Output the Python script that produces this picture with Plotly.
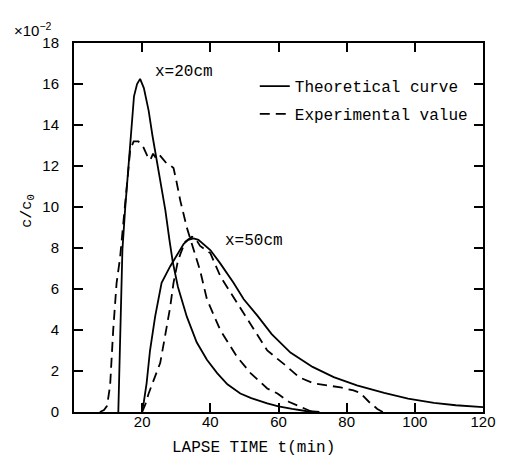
import plotly.graph_objects as go

# theoretical curve, x = 20 cm
t_th20 = [13.0, 13.5, 14.2, 15.0, 15.7, 16.3, 17.0, 17.6, 18.5, 19.4, 20.5, 21.9, 23.0, 24.3,
          25.5, 26.8, 28.0, 29.0, 30.5, 33.1, 36.0, 39.0, 42.0, 45.0, 48.8, 52.0, 56.7, 60.0,
          64.0, 68.0, 72.0]
c_th20 = [0.0, 3.0, 7.9, 9.9, 11.5, 12.9, 14.4, 15.4, 16.0, 16.25, 15.8, 14.7, 13.5, 12.3,
          11.0, 9.85, 8.4, 7.3, 6.1, 4.65, 3.4, 2.55, 1.9, 1.35, 0.9, 0.68, 0.42, 0.28,
          0.15, 0.05, 0.0]

# experimental value, x = 20 cm
t_ex20 = [7.6, 8.8, 9.7, 10.6, 11.5, 12.5, 13.5, 14.5, 15.5, 16.5, 17.5, 18.9, 20.4, 21.5,
          22.4, 23.2, 23.8, 24.8, 25.8, 27.3, 28.5, 29.2, 30.0, 31.2, 33.1, 35.0, 37.0, 39.0,
          42.9, 47.8, 51.8, 56.7, 59.7, 63.0, 66.5, 70.0]
c_ex20 = [0.0, 0.1, 0.3, 1.3, 4.0, 6.3, 7.5, 9.4, 11.3, 12.8, 13.2, 13.2, 12.9, 12.5,
          12.3, 12.6, 12.45, 12.6, 12.4, 12.1, 12.0, 11.9, 11.3, 10.3, 9.0, 8.0, 6.9, 5.5,
          4.0, 2.7, 1.9, 1.15, 0.9, 0.5, 0.24, 0.0]

# theoretical curve, x = 50 cm
t_th50 = [19.9, 20.5, 21.3, 22.3, 23.8, 25.7, 28.2, 30.5, 32.2, 33.5, 35.1, 36.5, 38.0, 40.0,
          42.9, 46.8, 49.8, 53.8, 58.0, 63.5, 70.0, 76.2, 83.0, 91.0, 98.0, 105.6, 112.0, 120.0]
c_th50 = [0.0, 0.5, 1.4, 3.0, 4.65, 6.3, 7.1, 7.7, 8.2, 8.4, 8.47, 8.4, 8.2, 7.9,
          7.25, 6.3, 5.5, 4.7, 3.8, 2.9, 2.2, 1.7, 1.3, 0.93, 0.65, 0.45, 0.33, 0.24]

# experimental value, x = 50 cm
t_ex50 = [20.0, 21.0, 21.9, 23.5, 25.3, 26.5, 27.3, 28.2, 29.2, 30.4, 31.2, 32.6, 34.6, 35.5,
          37.0, 40.0, 43.0, 46.8, 50.9, 56.7, 62.6, 66.0, 70.3, 74.0, 78.2, 82.0, 84.0, 86.5,
          89.0, 90.6]
c_ex50 = [0.0, 0.4, 0.9, 1.6, 2.4, 3.5, 4.2, 5.1, 6.3, 7.3, 7.7, 8.3, 8.55, 8.5,
          8.1, 7.75, 6.6, 5.6, 4.5, 3.0, 2.2, 1.7, 1.4, 1.3, 1.2, 1.05, 0.93, 0.5,
          0.15, 0.0]

x_ticks = [20, 40, 60, 80, 100, 120]
y_ticks = [0, 2, 4, 6, 8, 10, 12, 14, 16, 18]

MONO = "Liberation Mono"
NUM = "Liberation Sans"
solid = dict(color="black", width=1.8)
dashed = dict(color="black", width=1.8, dash="10px,6px")

fig = go.Figure()
fig.add_trace(go.Scatter(x=t_th20, y=c_th20, mode="lines", line=solid,
                         name="Theoretical curve", legendgroup="a"))
fig.add_trace(go.Scatter(x=t_ex20, y=c_ex20, mode="lines", line=dashed,
                         name="Experimental value", legendgroup="b"))
fig.add_trace(go.Scatter(x=t_th50, y=c_th50, mode="lines", line=solid,
                         showlegend=False, legendgroup="a"))
fig.add_trace(go.Scatter(x=t_ex50, y=c_ex50, mode="lines", line=dashed,
                         showlegend=False, legendgroup="b"))

fig.add_annotation(x=23.2, y=16.6, text="x=20cm", showarrow=False, xanchor="left",
                   font=dict(family=MONO, size=16, color="black"))
fig.add_annotation(x=43.7, y=8.35, text="x=50cm", showarrow=False, xanchor="left",
                   font=dict(family=MONO, size=16, color="black"))
fig.add_annotation(xref="paper", yref="paper", x=-0.152, y=1.068,
                   text="×10<sup>−2</sup>", showarrow=False,
                   font=dict(family=NUM, size=15, color="black"))
fig.add_annotation(xref="paper", yref="paper", x=-0.14, y=0.545, textangle=-90,
                   text="c/c<sub>0</sub>", showarrow=False,
                   font=dict(family=MONO, size=15, color="black"))
fig.add_annotation(xref="paper", yref="paper", x=0.438, y=-0.128,
                   text="LAPSE TIME t(min)", showarrow=False,
                   font=dict(family=MONO, size=16, color="black"))

axis = dict(showgrid=False, zeroline=False, showline=True, linecolor="black", linewidth=2,
            mirror="allticks", ticks="inside", ticklen=9, tickwidth=1.5, tickcolor="black",
            automargin=False,
            tickfont=dict(family=NUM, size=15, color="black"))

fig.update_xaxes(range=[0, 120], tickvals=x_ticks, ticklabelstandoff=-5, **axis)
fig.update_yaxes(range=[0, 18], tickvals=y_ticks, ticklabelstandoff=10, **axis)

# the page body adds an 8px offset, so the figure is 8px smaller and shifted back
fig.update_layout(
    width=498, height=450,
    margin=dict(l=66, r=23, t=35, b=46, autoexpand=False),
    plot_bgcolor="white", paper_bgcolor="white",
    legend=dict(x=0.442, y=0.929, xanchor="left", yanchor="top", traceorder="grouped",
                tracegroupgap=4, bgcolor="rgba(0,0,0,0)",
                font=dict(family=MONO, size=16, color="black")),
)

fig.write_html("out.html")
